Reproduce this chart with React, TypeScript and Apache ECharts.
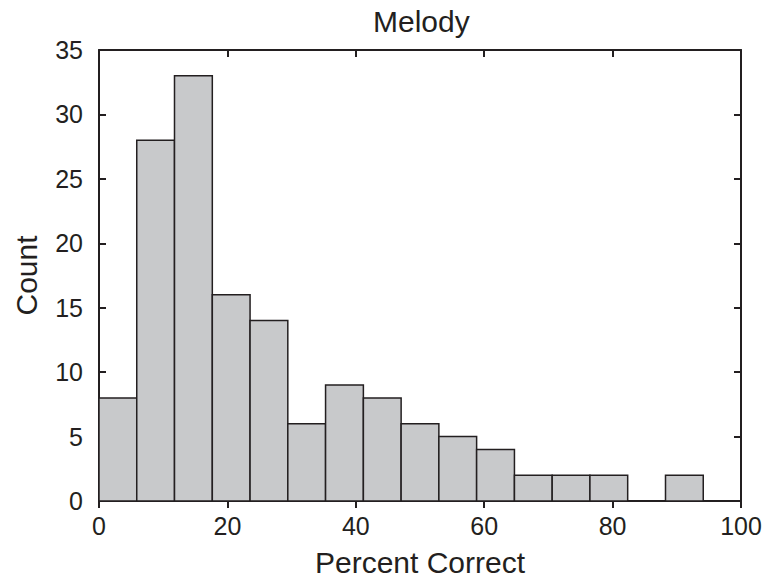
import React, { useEffect, useRef } from "react";
import * as echarts from "echarts";

const binStarts = [0, 5.88, 11.76, 17.65, 23.53, 29.41, 35.29, 41.18, 47.06, 52.94, 58.82, 64.71, 70.59, 76.47, 82.35, 88.24, 94.12];
const binEnds = [5.88, 11.76, 17.65, 23.53, 29.41, 35.29, 41.18, 47.06, 52.94, 58.82, 64.71, 70.59, 76.47, 82.35, 88.24, 94.12, 100];
const counts = [8, 28, 33, 16, 14, 6, 9, 8, 6, 5, 4, 2, 2, 2, 0, 2, 0];

const titleText = "Melody";
const xName = "Percent Correct";
const yName = "Count";

const INK = "#231f20";
const FILL = "#c8c9cb";
const FONT = "'Liberation Sans', Arial, Helvetica, sans-serif";

export default function App() {
  const ref = useRef<HTMLDivElement>(null);
  useEffect(() => {
    if (!ref.current) return;
    const chart = echarts.init(ref.current, null, { renderer: "svg" });
    const data = counts
      .map((c, i) => [binStarts[i], binEnds[i], c])
      .filter((d) => d[2] > 0);
    const axisLine = { show: true, onZero: false, lineStyle: { color: INK, width: 2 } };
    chart.setOption({
      animation: false,
      backgroundColor: "#ffffff",
      title: {
        text: titleText,
        left: 368,
        top: 1,
        textStyle: { fontFamily: FONT, fontSize: 30, fontWeight: "normal", color: INK },
      },
      grid: { left: 99, right: 28, top: 50, bottom: 84 },
      xAxis: [
        {
          type: "value",
          min: 0,
          max: 100,
          interval: 20,
          position: "bottom",
          name: xName,
          nameLocation: "middle",
          nameGap: 46,
          nameTextStyle: { fontFamily: FONT, fontSize: 30, color: INK },
          axisLine,
          axisTick: { show: true, inside: false, length: 7, lineStyle: { color: INK, width: 2 } },
          axisLabel: { fontFamily: FONT, fontSize: 25, color: INK, margin: 12 },
          splitLine: { show: false },
        },
        {
          type: "value",
          min: 0,
          max: 100,
          interval: 20,
          position: "top",
          axisLine,
          axisTick: { show: true, inside: true, length: 7, lineStyle: { color: INK, width: 2 } },
          axisLabel: { show: false },
          splitLine: { show: false },
        },
      ],
      yAxis: [
        {
          type: "value",
          min: 0,
          max: 35,
          interval: 5,
          position: "left",
          name: yName,
          nameLocation: "middle",
          nameGap: 58,
          nameTextStyle: { fontFamily: FONT, fontSize: 30, color: INK },
          axisLine,
          axisTick: { show: true, inside: true, length: 7, lineStyle: { color: INK, width: 2 } },
          axisLabel: { fontFamily: FONT, fontSize: 25, color: INK, margin: 16 },
          splitLine: { show: false },
        },
        {
          type: "value",
          min: 0,
          max: 35,
          interval: 5,
          position: "right",
          axisLine,
          axisTick: { show: true, inside: true, length: 7, lineStyle: { color: INK, width: 2 } },
          axisLabel: { show: false },
          splitLine: { show: false },
        },
      ],
      series: [
        {
          type: "custom",
          xAxisIndex: 0,
          yAxisIndex: 0,
          encode: { x: [0, 1], y: 2 },
          data,
          renderItem: (params: any, api: any) => {
            const p0 = api.coord([api.value(0), api.value(2)]);
            const p1 = api.coord([api.value(1), 0]);
            return {
              type: "rect",
              shape: { x: p0[0], y: p0[1], width: p1[0] - p0[0], height: p1[1] - p0[1] },
              style: { fill: FILL, stroke: INK, lineWidth: 1.5 },
            };
          },
        },
      ],
    });
    return () => chart.dispose();
  }, []);
  return <div ref={ref} style={{ width: 769, height: 585, position: "absolute", left: 0, top: 0 }} />;
}
